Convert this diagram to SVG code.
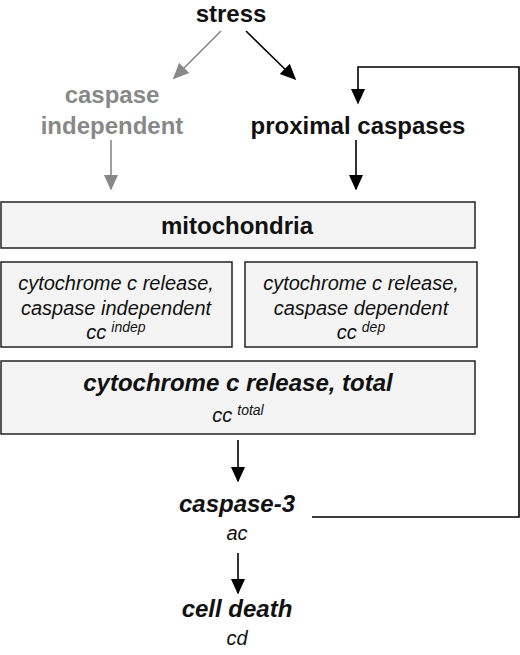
<svg xmlns="http://www.w3.org/2000/svg" width="520" height="655" viewBox="0 0 520 655">
<style>
text{font-family:"Liberation Sans",Arial,sans-serif;text-anchor:middle;fill:#111}
.b{font-weight:bold;font-size:24px}
.gr{fill:#888}
.i{font-style:italic;font-size:20px}
.bi{font-weight:bold;font-style:italic;font-size:24px}
.s{font-size:14px}
.box{fill:#f4f4f4;stroke:#222;stroke-width:1.5}
.k{stroke:#000;stroke-width:1.6;fill:none}
.g{stroke:#888;stroke-width:1.6;fill:none}
</style>
<defs>
<marker id="akb" viewBox="0 0 10 10" refX="9" refY="5" markerWidth="16" markerHeight="16" markerUnits="userSpaceOnUse" orient="auto"><path d="M0,0.5L10,5L0,9.5z" fill="#000"/></marker>
<marker id="agb" viewBox="0 0 10 10" refX="9" refY="5" markerWidth="16" markerHeight="16" markerUnits="userSpaceOnUse" orient="auto"><path d="M0,0.5L10,5L0,9.5z" fill="#888"/></marker>
</defs>
<g id="connectors">
<line class="g" x1="221" y1="31" x2="174" y2="78" marker-end="url(#agb)"/>
<line class="k" x1="246" y1="31" x2="295" y2="79" marker-end="url(#akb)"/>
<line class="g" x1="111" y1="140" x2="111" y2="189" marker-end="url(#agb)"/>
<line class="k" x1="356" y1="140" x2="356" y2="189" marker-end="url(#akb)"/>
<polyline class="k" points="312,517 519,517 519,67 358,67 358,103" marker-end="url(#akb)"/>
<line class="k" x1="238" y1="440" x2="238" y2="481" marker-end="url(#akb)"/>
<line class="k" x1="238" y1="553" x2="238" y2="593" marker-end="url(#akb)"/>
</g>
<g id="stress"><text class="b" x="231" y="22">stress</text></g>
<g id="caspase-independent"><text class="b gr" x="112" y="103">caspase</text><text class="b gr" x="112" y="134">independent</text></g>
<g id="proximal-caspases"><text class="b" x="358" y="134">proximal caspases</text></g>
<g id="mitochondria"><rect class="box" x="1" y="202" width="474" height="46"/><text class="b" x="237" y="234">mitochondria</text></g>
<g id="cc-indep"><rect class="box" x="1" y="262" width="231" height="85"/>
<text class="i" x="116" y="290">cytochrome c release,</text>
<text class="i" x="116" y="315">caspase independent</text>
<text class="i" x="116" y="339"><tspan>cc</tspan><tspan class="s" dx="5" dy="-7">indep</tspan></text></g>
<g id="cc-dep"><rect class="box" x="245" y="262" width="232" height="85"/>
<text class="i" x="361" y="290">cytochrome c release,</text>
<text class="i" x="361" y="315">caspase dependent</text>
<text class="i" x="361" y="339"><tspan>cc</tspan><tspan class="s" dx="5" dy="-7">dep</tspan></text></g>
<g id="cc-total"><rect class="box" x="1" y="361" width="474" height="73"/>
<text class="bi" x="238" y="391">cytochrome c release, total</text>
<text class="i" x="238" y="422"><tspan>cc</tspan><tspan class="s" dx="5" dy="-7">total</tspan></text></g>
<g id="caspase-3"><text class="bi" x="237" y="512">caspase-3</text><text class="i" x="237" y="540">ac</text></g>
<g id="cell-death"><text class="bi" x="237" y="617">cell death</text><text class="i" x="237" y="645">cd</text></g>
</svg>
